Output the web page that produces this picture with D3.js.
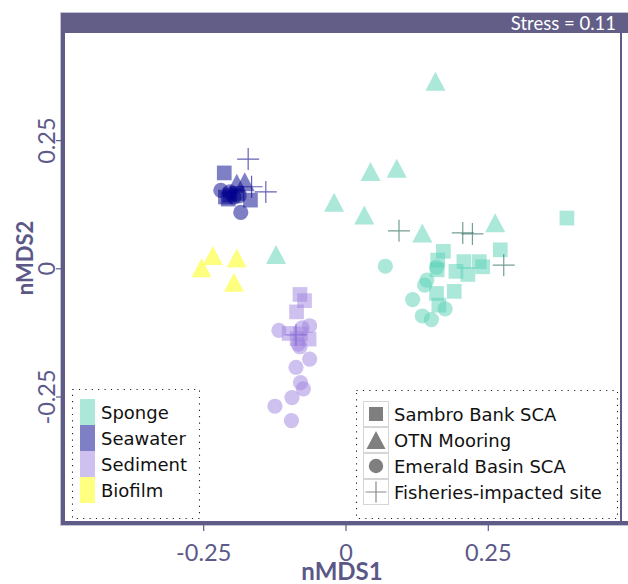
<!DOCTYPE html>
<html>
<head>
<meta charset="utf-8">
<script src="https://cdn.jsdelivr.net/npm/d3@7/dist/d3.min.js"></script>
<style>
  html, body { margin: 0; padding: 0; background: #ffffff; }
  svg { display: block; }
</style>
</head>
<body>
<svg id="chart" width="628" height="584"></svg>
<script>
// ---------------- DATA ----------------
const sampleTypes = ["Sponge", "Seawater", "Sediment", "Biofilm"];
const siteNames = ["Sambro Bank SCA", "OTN Mooring", "Emerald Basin SCA", "Fisheries-impacted site"];
const xTicks = [-0.25, 0, 0.25];
const yTicks = [-0.25, 0, 0.25];
const xTickLabels = ["-0.25", "0", "0.25"];
const yTickLabels = ["-0.25", "0", "0.25"];
const stressLabel = "Stress = 0.11";
const xTitle = "nMDS1";
const yTitle = "nMDS2";

// per-sample values (type index, site index, nMDS1, nMDS2)
const sampleType = [
  // Sponge
  0,0,0,0,0,0,0,0,
  0,0,0,0,0,0,0,0,0,0,0,0,0,
  0,0,0,0,0,0,0,0,
  0,0,0,0,
  // Seawater
  1,1,1,
  1,1,1,1,1,1,
  1,1,
  1,1,1,1,1,
  // Sediment
  2,2,2,2,2,2,2,
  2,2,2,2,2,2,2,2,2,2,2,2,
  2,
  // Biofilm
  3,3,3,3
];
const sampleSite = [
  1,1,1,1,1,1,1,1,
  0,0,0,0,0,0,0,0,0,0,0,0,0,
  2,2,2,2,2,2,2,2,
  3,3,3,3,
  3,3,3,
  0,0,0,0,0,0,
  1,1,
  2,2,2,2,2,
  0,0,0,0,0,0,0,
  2,2,2,2,2,2,2,2,2,2,2,2,
  3,
  1,1,1,1
];
const nmds1 = [
  0.158, 0.044, 0.090, 0.033, -0.020, 0.135, 0.263, -0.122,
  0.389, 0.172, 0.162, 0.161, 0.208, 0.235, 0.194, 0.215, 0.241, 0.272, 0.191, 0.160, 0.164,
  0.070, 0.143, 0.139, 0.118, 0.135, 0.151, 0.175, 0.160,
  0.094, 0.206, 0.223, 0.278,
  -0.171, -0.165, -0.140,
  -0.213, -0.211, -0.203, -0.191, -0.167, -0.206,
  -0.191, -0.177,
  -0.219, -0.184, -0.203, -0.196, -0.187,
  -0.080, -0.072, -0.086, -0.099, -0.079, -0.064, -0.085,
  -0.117, -0.076, -0.063, -0.083, -0.080, -0.063, -0.087, -0.079, -0.074, -0.094, -0.124, -0.095,
  -0.087,
  -0.233, -0.253, -0.191, -0.196
];
const nmds2 = [
  0.365, 0.189, 0.195, 0.104, 0.129, 0.069, 0.089, 0.027,
  0.098, 0.033, 0.016, -0.003, 0.013, 0.013, -0.006, -0.012, 0.003, 0.036, -0.045, -0.049, -0.072,
  0.004, -0.023, -0.033, -0.061, -0.093, -0.100, -0.079, 0.002,
  0.073, 0.069, 0.067, 0.006,
  0.213, 0.159, 0.149,
  0.186, 0.139, 0.143, 0.146, 0.133, 0.135,
  0.166, 0.169,
  0.152, 0.109, 0.149, 0.139, 0.141,
  -0.051, -0.063, -0.085, -0.127, -0.128, -0.138, -0.137,
  -0.121, -0.116, -0.112, -0.148, -0.153, -0.177, -0.193, -0.223, -0.235, -0.252, -0.269, -0.297,
  -0.130,
  0.025, 0.001, 0.020, -0.027
];

// ---------------- STYLE ----------------
const fillColors = ["#57d1b5", "#00008b", "#9f84e0", "#ffff00"];
const crossColors = ["#2b6a5c", "#10108f", "#7a5ccc", "#999900"];
const keyColors = ["#abe8da", "#7f7fc5", "#cfc1ef", "#ffff80"];
const borderColor = "#5f5b87";
const axisTextColor = "#5d5a8a";

const svg = d3.select("#chart");

const x = d3.scaleLinear().domain([-0.25, 0.25]).range([203.2, 487.8]);
const y = d3.scaleLinear().domain([-0.25, 0.25]).range([396.5, 140.1]);

const panel = { left: 65, right: 620, top: 33, bottom: 521 };

svg.append("defs").append("clipPath").attr("id", "pclip")
  .append("rect").attr("x", panel.left).attr("y", panel.top)
  .attr("width", panel.right - panel.left).attr("height", panel.bottom - panel.top);

svg.append("rect").attr("x", panel.left).attr("y", panel.top)
  .attr("width", panel.right - panel.left).attr("height", panel.bottom - panel.top)
  .attr("fill", "#ffffff");

// ---------------- POINTS ----------------
const data = nmds1.map((v, i) => ({ x: v, y: nmds2[i], t: sampleType[i], s: sampleSite[i] }));

const gPts = svg.append("g").attr("clip-path", "url(#pclip)");

function drawShape(g, site, cx, cy, fill, stroke, opacity, scale) {
  const k = scale || 1;
  if (site === 0) {
    const s = 14.7 * k;
    g.append("rect").attr("x", cx - s / 2).attr("y", cy - s / 2).attr("width", s).attr("height", s)
      .attr("fill", fill).attr("fill-opacity", opacity);
  } else if (site === 1) {
    const w = 20 * k, h = 19 * k;
    g.append("path")
      .attr("d", `M${cx},${cy - h / 2}L${cx + w / 2},${cy + h / 2}L${cx - w / 2},${cy + h / 2}Z`)
      .attr("fill", fill).attr("fill-opacity", opacity);
  } else if (site === 2) {
    g.append("circle").attr("cx", cx).attr("cy", cy).attr("r", 7.6 * k)
      .attr("fill", fill).attr("fill-opacity", opacity);
  } else {
    const a = 11 * k;
    g.append("path")
      .attr("d", `M${cx - a},${cy}H${cx + a}M${cx},${cy - a}V${cy + a}`)
      .attr("stroke", stroke).attr("stroke-width", 1.2).attr("stroke-opacity", opacity === 1 ? 1 : 0.65)
      .attr("fill", "none");
  }
}

data.forEach(d => {
  drawShape(gPts, d.s, x(d.x), y(d.y), fillColors[d.t], crossColors[d.t], 0.5);
});

// ---------------- PANEL BORDER & STRIP ----------------
svg.append("rect").attr("x", 60.5).attr("y", 12.5).attr("width", 570).attr("height", 513)
  .attr("fill", "none").attr("stroke", "#c4c3d3").attr("stroke-width", 1);
svg.append("rect").attr("x", 61).attr("y", 13).attr("width", 567).attr("height", 20)
  .attr("fill", "#625e88");
svg.append("line").attr("x1", 63).attr("x2", 63).attr("y1", 33).attr("y2", 525)
  .attr("stroke", borderColor).attr("stroke-width", 4);
svg.append("line").attr("x1", 61).attr("x2", 628).attr("y1", 523).attr("y2", 523)
  .attr("stroke", borderColor).attr("stroke-width", 4);
svg.append("line").attr("x1", 621).attr("x2", 621).attr("y1", 33).attr("y2", 523)
  .attr("stroke", borderColor).attr("stroke-width", 2);

svg.append("text").attr("x", 616).attr("y", 30)
  .attr("text-anchor", "end").attr("fill", "#ffffff")
  .attr("font-family", "Lato, 'Open Sans', sans-serif").attr("font-size", 18.5)
  .text(stressLabel);

// ---------------- AXES ----------------
const tickFont = 23.5;
const xAxis = d3.axisBottom(x).tickValues(xTicks).tickSize(6).tickPadding(0)
  .tickFormat((d, i) => xTickLabels[i]);
const gx = svg.append("g").attr("transform", `translate(0,${525})`).call(xAxis);
gx.select(".domain").remove();
gx.selectAll(".tick line").attr("stroke", borderColor).attr("stroke-width", 1.2);
gx.selectAll(".tick text").attr("fill", axisTextColor)
  .attr("font-family", "Lato, 'Open Sans', sans-serif").attr("font-size", tickFont)
  .attr("dy", null).attr("y", 36);

const yAxis = d3.axisLeft(y).tickValues(yTicks).tickSize(5).tickPadding(0)
  .tickFormat((d, i) => yTickLabels[i]);
const gy = svg.append("g").attr("transform", `translate(${61},0)`).call(yAxis);
gy.select(".domain").remove();
gy.selectAll(".tick line").attr("stroke", borderColor).attr("stroke-width", 1.2);
gy.selectAll(".tick text").attr("fill", axisTextColor)
  .attr("font-family", "Lato, 'Open Sans', sans-serif").attr("font-size", tickFont)
  .attr("text-anchor", "middle").attr("x", null).attr("dy", null)
  .attr("transform", "translate(-6,0) rotate(-90)");

svg.append("text").attr("x", 342).attr("y", 580).attr("text-anchor", "middle")
  .attr("fill", "#5b5887").attr("font-family", "Lato, 'Open Sans', sans-serif")
  .attr("font-weight", "bold").attr("font-size", 24).text(xTitle);

svg.append("text").attr("transform", "translate(33,258) rotate(-90)").attr("text-anchor", "middle")
  .attr("fill", "#5b5887").attr("font-family", "Lato, 'Open Sans', sans-serif")
  .attr("font-weight", "bold").attr("font-size", 22).text(yTitle);

// ---------------- LEGENDS ----------------
const legendFont = "'DejaVu Sans', Verdana, sans-serif";

const gl = svg.append("g");
gl.append("rect").attr("x", 72.5).attr("y", 389.5).attr("width", 127).attr("height", 129)
  .attr("fill", "#ffffff").attr("stroke", "#222").attr("stroke-width", 1.1)
  .attr("stroke-dasharray", "1.2,5.2");
sampleTypes.forEach((t, i) => {
  const top = 399 + i * 26;
  gl.append("rect").attr("x", 80).attr("y", top).attr("width", 15).attr("height", 26)
    .attr("fill", keyColors[i]);
  gl.append("text").attr("x", 101).attr("y", top + 19.5)
    .attr("font-family", legendFont).attr("font-size", 18).attr("fill", "#111")
    .text(t);
});

const gr = svg.append("g");
gr.append("rect").attr("x", 356.5).attr("y", 390.5).attr("width", 261).attr("height", 128)
  .attr("fill", "#ffffff").attr("stroke", "#222").attr("stroke-width", 1.1)
  .attr("stroke-dasharray", "1.2,5.2");
siteNames.forEach((s, i) => {
  const top = 401 + i * 26;
  gr.append("rect").attr("x", 363.5).attr("y", top + 0.5).attr("width", 25).attr("height", 25)
    .attr("fill", "#ffffff").attr("stroke", "#d6d6d6").attr("stroke-width", 1);
  drawShape(gr, i, 376, top + 13, "#7f7f7f", "#8a8a8a", 1, 0.95);
  gr.append("text").attr("x", 394).attr("y", top + 19.5)
    .attr("font-family", legendFont).attr("font-size", 18).attr("fill", "#111")
    .text(s);
});
</script>
</body>
</html>
